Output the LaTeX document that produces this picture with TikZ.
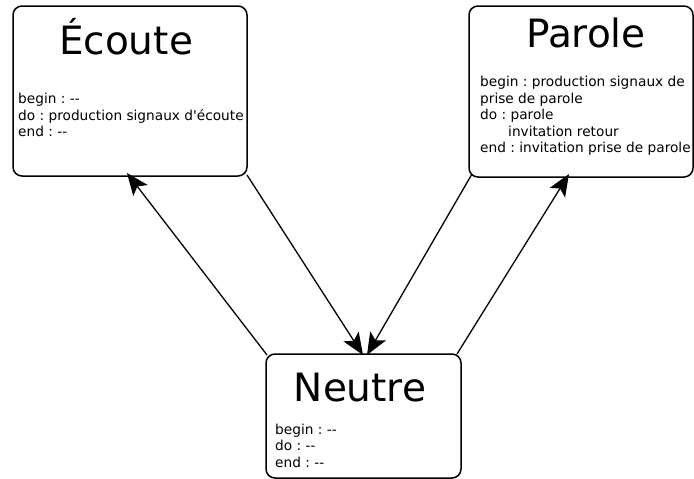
\documentclass[tikz,border=0pt]{standalone}
\usepackage{fontspec}
\newfontfamily\dejavu{DejaVu Sans}
\usetikzlibrary{arrows.meta}
\tikzset{
  statebox/.style={draw, line width=1.5pt, rounded corners=9pt, inner sep=0pt},
  title/.style={anchor=base, inner sep=0pt, font=\dejavu\fontsize{39}{42}\selectfont},
  body/.style={anchor=base west, inner sep=0pt, align=left, font=\dejavu\frenchspacing\fontsize{13.7}{16.5}\selectfont},
  trans/.style={line width=1.3pt, -{Stealth[length=22pt,width=18pt,inset=5pt]}}
}
\begin{document}
\frenchspacing
\begin{tikzpicture}[x=1pt,y=-1pt]
\useasboundingbox (0,0) rectangle (694,479);
\node[statebox, minimum width=234pt, minimum height=170pt] (ecoute) at (130,91) {};
\node[statebox, minimum width=224pt, minimum height=171pt] (parole) at (581,91.5) {};
\node[statebox, minimum width=195pt, minimum height=124pt] (neutre) at (363.5,416) {};
\node[title] (tE) at (126,54) {Écoute};
\node[title] (tP) at (586,47) {Parole};
\node[title] (tN) at (360,401) {Neutre};
\node[body] (bE) at (18,136.5) {begin : --\\do : production signaux d'écoute\\end : --};
\node[body] (bP) at (480,152.5) {begin : production signaux de\\prise de parole\\do : parole\\\hspace{28pt}invitation retour\\end : invitation prise de parole};
\node[body] (bN) at (275,467) {begin : --\\do : --\\end : --};
\coordinate (n1) at (267,355);
\coordinate (n2) at (363,355);
\coordinate (n3) at (367,355);
\coordinate (n4) at (457,354);
\coordinate (e1) at (127,173);
\coordinate (e2) at (247,175);
\coordinate (p1) at (472,174);
\coordinate (p2) at (569,174);
\draw[trans] (n1) -- (e1);
\draw[trans] (e2) -- (n2);
\draw[trans] (p1) -- (n3);
\draw[trans] (n4) -- (p2);
\end{tikzpicture}
\end{document}
